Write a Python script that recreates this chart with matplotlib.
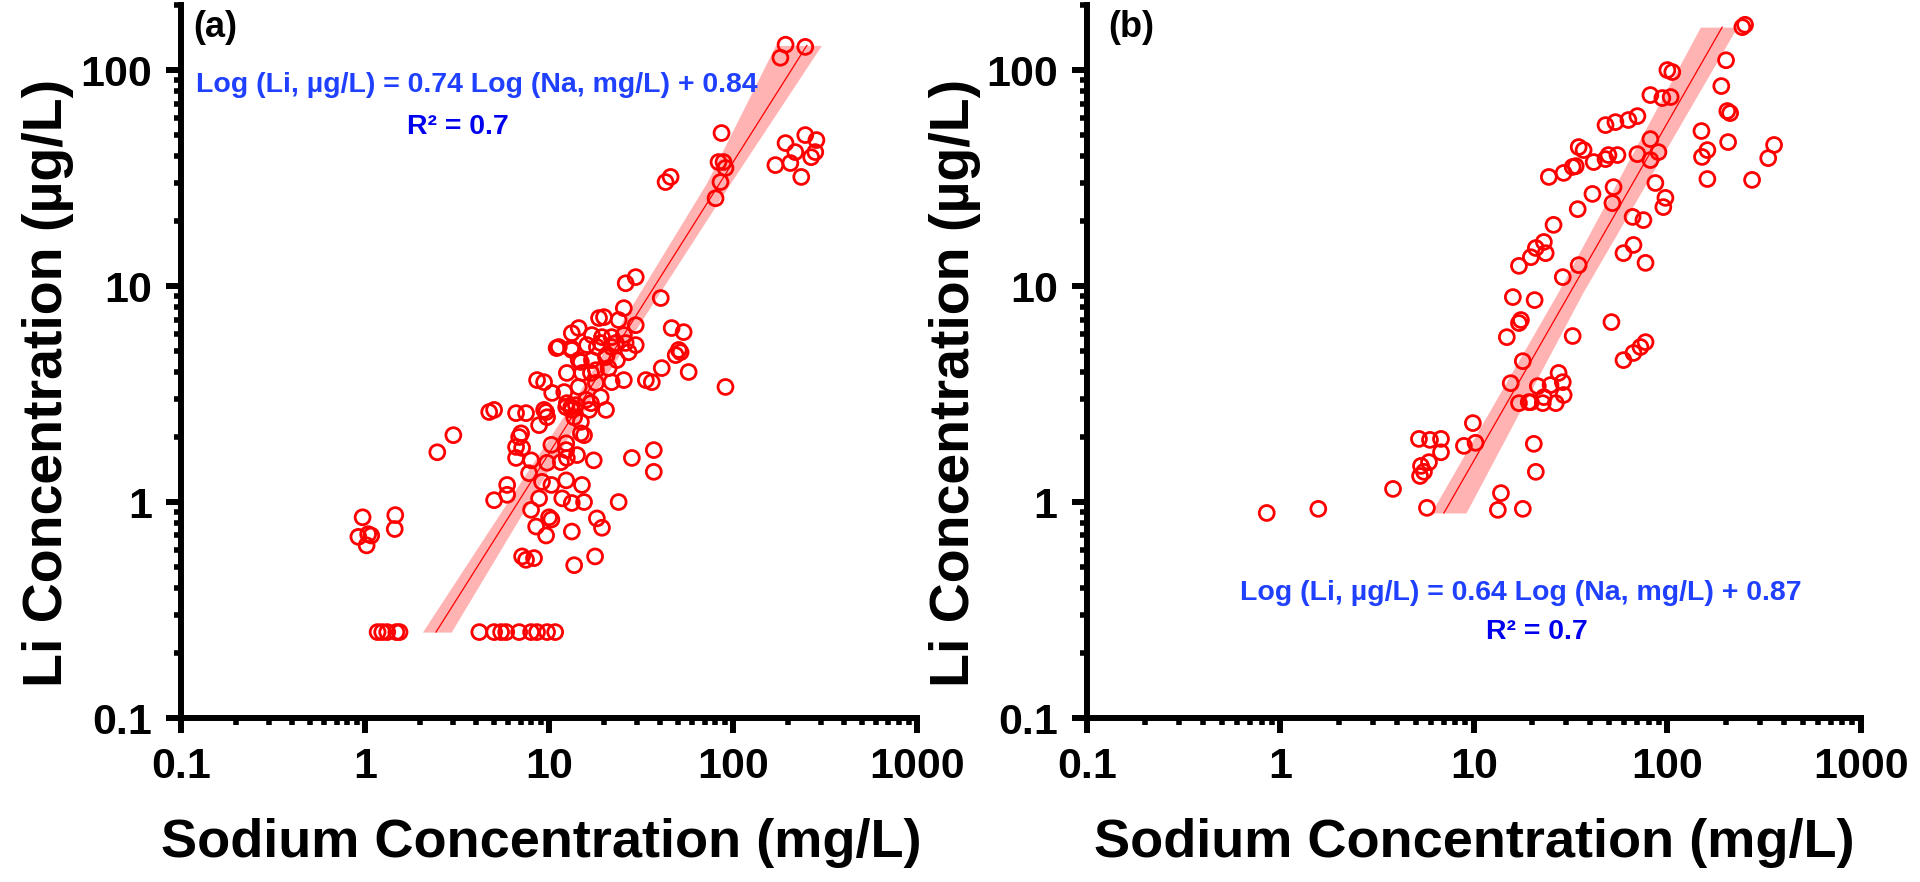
import matplotlib
matplotlib.use("Agg")
import matplotlib.pyplot as plt
from matplotlib import font_manager
from matplotlib.ticker import LogLocator, FixedLocator, FixedFormatter, NullFormatter

plt.rcParams['font.family'] = ['Liberation Sans', 'DejaVu Sans']
plt.rcParams['font.weight'] = 'bold'

# narrow face for tick numbers, if present
names = {f.name for f in font_manager.fontManager.ttflist}
if 'Liberation Sans Narrow' in names:
    tick_family, tick_size = ['Liberation Sans Narrow'], 34
else:
    tick_family, tick_size = ['Liberation Sans'], 31

# ---- panel (a) data: sodium (mg/L) vs lithium (ug/L)
na_a = [1.17, 1.24, 1.32, 1.48, 1.54, 4.18, 5.03, 5.49, 5.85, 6.88, 7.99, 8.61, 9.76, 10.8,
        0.97, 1.04, 0.92, 1.02, 1.08, 1.46, 1.45, 2.47, 3.02,
        193, 181, 247, 86.6, 193, 247, 284, 280, 218, 205, 170, 235, 266, 83.4, 88.8, 91.0, 85.5, 80.4,
        43.0, 45.8, 26.1, 29.6, 40.5, 25.5,
        19.9, 18.7, 23.9, 29.6, 14.5, 13.3, 17.1, 19.4, 21.9, 25.5, 46.4, 53.9,
        11.3, 13.3, 16.1, 19.1, 21.9, 26.1, 29.6, 27.1, 14.5, 17.1, 20.4, 23.4, 51.9, 48.8,
        12.5, 15.1, 18.0, 21.1, 41.0, 36.2, 33.6, 57.4, 8.61, 9.40, 10.4, 12.1, 14.5, 18.0, 21.9, 25.5,
        12.5, 15.9, 19.1,
        4.73, 5.03, 6.62, 7.50, 9.64, 13.3, 16.5, 20.4,
        11.0, 13.2, 18.2, 23.1, 50.7, 91.0, 20.6, 14.9, 16.9, 16.9, 13.2, 9.40, 8.83, 14.9, 15.5, 6.88,
        7.05, 6.62, 7.14, 6.62, 7.99, 10.3, 12.4, 12.4, 14.2, 12.5, 17.5, 9.76, 11.6, 28.2, 37.1, 37.1, 7.79,
        5.92, 5.92, 5.03, 9.16, 10.3, 12.4, 15.1, 8.83, 11.8, 13.3, 15.5, 23.9, 7.99, 10.0, 10.3, 8.51,
        9.64, 18.2, 19.4, 13.3, 7.14, 7.50, 8.29, 13.7, 17.8,
        9.76, 12.4, 14.0, 13.7, 14.9]
li_a = [0.25, 0.25, 0.25, 0.25, 0.25, 0.25, 0.25, 0.25, 0.25, 0.25, 0.25, 0.25, 0.25, 0.25,
        0.85, 0.71, 0.69, 0.63, 0.70, 0.87, 0.75, 1.70, 2.04,
        131, 114, 128, 51.1, 45.9, 50.0, 47.4, 41.7, 41.7, 37.1, 36.3, 32.0, 39.5, 37.5, 37.5, 35.2, 30.3, 25.5,
        30.3, 32.0, 10.3, 11.0, 8.8, 7.9,
        7.18, 7.11, 6.96, 6.59, 6.39, 6.05, 5.93, 5.80, 5.80, 5.93, 6.39, 6.12,
        5.22, 5.06, 5.33, 5.45, 5.22, 5.45, 5.33, 4.94, 4.54, 4.54, 4.69, 4.54, 4.94, 4.79,
        3.96, 3.96, 4.08, 4.17, 4.17, 3.59, 3.67, 4.0, 3.67, 3.59, 3.20, 3.23, 3.41, 3.56, 3.59, 3.67,
        2.87, 2.97, 3.06,
        2.61, 2.67, 2.58, 2.58, 2.61, 2.67, 2.67, 2.67,
        5.16, 5.16, 5.22, 5.45, 5.06, 3.41, 4.79, 4.45, 3.96, 2.87, 2.75, 2.67, 2.27, 2.35, 2.04, 2.0,
        2.08, 1.80, 1.78, 1.60, 1.56, 1.84, 1.87, 1.74, 1.65, 1.60, 1.56, 1.52, 1.53, 1.60, 1.74, 1.38, 1.36,
        1.20, 1.08, 1.02, 1.24, 1.20, 1.26, 1.20, 1.04, 1.04, 0.99, 1.0, 1.0, 0.92, 0.85, 0.83, 0.77,
        0.70, 0.84, 0.76, 0.73, 0.56, 0.54, 0.55, 0.51, 0.56,
        2.47, 2.75, 2.81, 2.47, 2.08]

# fitted line and confidence band (a)
fit_na_a = [2.43, 252]
fit_li_a = [0.25, 130]
band_li_a = [0.25, 3, 30, 130]
band_lo_a = [2.05, 13.8, 71.8, 170]
band_hi_a = [2.94, 16.9, 96.9, 302]

# ---- panel (b) data
na_b = [0.85, 1.57, 3.82, 5.72,
        5.20, 5.93, 6.76, 6.76, 5.86, 5.33, 5.52, 5.27,
        8.88, 10.2, 9.88, 13.8, 13.3, 17.9, 20.4, 20.9, 15.5, 17.9,
        17.1, 19.7, 22.7, 26.5, 23.0, 21.4, 24.9, 27.4, 28.8, 29.1, 19.2,
        14.8, 17.1, 17.5, 15.9, 20.6, 32.4, 51.4,
        59.3, 66.8, 72.6, 77.1, 28.8, 34.8,
        17.1, 19.7, 20.9, 23.0, 23.5,
        25.8, 34.4, 41.0, 52.7, 52.0, 66.1, 75.2, 59.3, 66.8, 77.1,
        24.4, 29.1, 32.4, 33.6,
        34.8, 36.9, 41.6, 47.9, 49.6, 55.2, 70.0, 81.7, 81.7, 89.9,
        47.9, 53.9, 62.9, 70.0,
        86.7, 97.7, 95.3,
        81.7, 94.2, 104, 100, 106,
        244, 252, 201, 190, 204, 211, 150, 206, 356, 332, 274, 161, 161, 151]
li_b = [0.89, 0.93, 1.15, 0.94,
        1.96, 1.94, 1.96, 1.70, 1.53, 1.47, 1.38, 1.32,
        1.82, 1.88, 2.32, 1.10, 0.92, 0.93, 1.86, 1.38, 3.55, 4.49,
        2.87, 2.90, 2.87, 2.87, 3.06, 3.44, 3.48, 3.96, 3.59, 3.13, 2.90,
        5.80, 6.74, 6.96, 8.89, 8.61, 5.87, 6.81,
        4.54, 4.90, 5.22, 5.50, 11.0, 12.5,
        12.4, 13.6, 15.0, 16.0, 14.2,
        19.2, 22.7, 26.7, 28.7, 24.2, 20.9, 20.2, 14.2, 15.5, 12.8,
        32.0, 33.4, 35.6, 35.9,
        44.0, 42.6, 37.5, 38.7, 40.4, 40.4, 40.8, 47.9, 38.3, 41.7,
        55.6, 57.4, 58.7, 61.2,
        30.0, 25.6, 23.2,
        76.6, 74.2, 75.0, 100, 97.9,
        158, 162, 111, 84.3, 64.6, 63.2, 52.2, 46.4, 45.0, 39.1, 31.0, 31.3, 42.6, 39.6]

fit_na_b = [7.0, 192]
fit_li_b = [0.89, 158]
band_li_b = [0.89, 9.3, 158]
band_lo_b = [6.0, 27.1, 148]
band_hi_b = [9.1, 36.5, 229]

x_ticks = [0.1, 1, 10, 100, 1000]
x_labels = ['0.1', '1', '10', '100', '1000']
y_ticks = [0.1, 1, 10, 100]
y_labels = ['0.1', '1', '10', '100']


def style_axis(ax):
    ax.set_xscale('log')
    ax.set_yscale('log')
    ax.set_xlim(0.1, 1000)
    ax.set_ylim(0.1, 200)
    for s in ['top', 'right']:
        ax.spines[s].set_visible(False)
    for s in ['left', 'bottom']:
        ax.spines[s].set_linewidth(4.3)
    ax.xaxis.set_major_locator(FixedLocator(x_ticks))
    ax.xaxis.set_major_formatter(FixedFormatter(x_labels))
    ax.yaxis.set_major_locator(FixedLocator(y_ticks))
    ax.yaxis.set_major_formatter(FixedFormatter(y_labels))
    ax.xaxis.set_minor_locator(LogLocator(base=10, subs=range(2, 10), numticks=20))
    ax.yaxis.set_minor_locator(LogLocator(base=10, subs=range(2, 10), numticks=20))
    ax.xaxis.set_minor_formatter(NullFormatter())
    ax.yaxis.set_minor_formatter(NullFormatter())
    ax.tick_params(which='major', direction='out', length=11, width=4.3,
                   labelsize=tick_size, pad=10)
    ax.tick_params(which='minor', direction='out', length=5, width=4)
    for lab in ax.get_xticklabels() + ax.get_yticklabels():
        lab.set_fontweight('bold')
        lab.set_family(tick_family)
    ax.set_xlabel('Sodium Concentration (mg/L)', fontsize=39, fontweight='bold')
    ax.set_ylabel('Li Concentration (µg/L)', fontsize=40, fontweight='bold')


fig = plt.figure(figsize=(19.2, 8.82), dpi=100)
ax1 = fig.add_axes([0.0943, 0.1859, 0.3833, 0.8084])
ax2 = fig.add_axes([0.5661, 0.1859, 0.4031, 0.8084])

pink = '#ffb3b3'

ax1.fill_betweenx(band_li_a, band_lo_a, band_hi_a, color=pink, lw=0, zorder=1)
ax1.plot(fit_na_a, fit_li_a, color='red', lw=0.9, zorder=2)
ax1.scatter(na_a, li_a, s=115, facecolors='none', edgecolors='red', linewidths=2.0, zorder=3)

ax2.fill_betweenx(band_li_b, band_lo_b, band_hi_b, color=pink, lw=0, zorder=1)
ax2.plot(fit_na_b, fit_li_b, color='red', lw=0.9, zorder=2)
ax2.scatter(na_b, li_b, s=115, facecolors='none', edgecolors='red', linewidths=2.0, zorder=3)

for ax in (ax1, ax2):
    style_axis(ax)
ax1.xaxis.set_label_coords(0.49, -0.14)
ax2.xaxis.set_label_coords(0.5, -0.14)
ax1.yaxis.set_label_coords(-0.145, 0.47)
ax2.yaxis.set_label_coords(-0.137, 0.47)

ax1.text(0.016, 0.993, '(a)', transform=ax1.transAxes, fontsize=26,
         fontweight='bold', va='top', ha='left')
ax2.text(0.027, 0.993, '(b)', transform=ax2.transAxes, fontsize=26,
         fontweight='bold', va='top', ha='left')

ax1.text(0.402, 0.888, 'Log (Li, µg/L) = 0.74 Log (Na, mg/L) + 0.84', transform=ax1.transAxes,
         fontsize=20.5, fontweight='bold', color='#2040ff', ha='center', va='center')
ax1.text(0.376, 0.829, 'R² = 0.7', transform=ax1.transAxes,
         fontsize=20.5, fontweight='bold', color='#0000ee', ha='center', va='center')
ax2.text(0.561, 0.175, 'Log (Li, µg/L) = 0.64 Log (Na, mg/L) + 0.87', transform=ax2.transAxes,
         fontsize=20.5, fontweight='bold', color='#2040ff', ha='center', va='center')
ax2.text(0.581, 0.121, 'R² = 0.7', transform=ax2.transAxes,
         fontsize=20.5, fontweight='bold', color='#0000ee', ha='center', va='center')

fig.savefig('out.png', dpi=100)
